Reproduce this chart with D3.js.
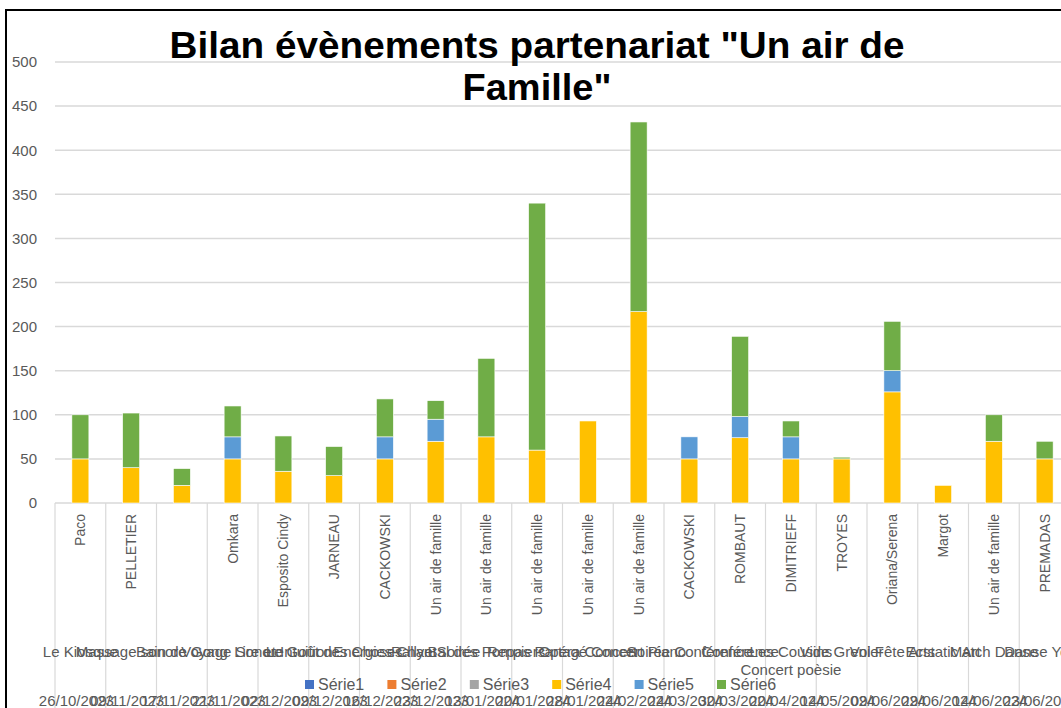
<html>
<head>
<meta charset="utf-8">
<title>Bilan partenariat</title>
<script src="https://cdn.jsdelivr.net/npm/d3@7"></script>
<style>
body{
    margin: 0;
    background: #fff;
}
svg text {
    font-family: "Liberation Sans", Arial, sans-serif;
    fill: #595959;
}
.title {
    font-family: "Liberation Sans Narrow", "Liberation Sans", Arial, sans-serif;
    font-weight: bold;
    fill: #000;
}
.grid line { stroke: #d9d9d9; stroke-width: 1.5px; }
.sep { stroke: #d9d9d9; stroke-width: 1.2px; }
</style>
</head>
<body>
<div id="chart"></div>
<script>
var W = 1061, H = 708;

var titleLines = ['Bilan évènements partenariat "Un air de', 'Famille"'];

var names = ["Paco", "PELLETIER", "", "Omkara", "Esposito Cindy", "JARNEAU", "CACKOWSKI",
    "Un air de famille", "Un air de famille", "Un air de famille", "Un air de famille",
    "Un air de famille", "CACKOWSKI", "ROMBAUT", "DIMITRIEFF", "TROYES", "Oriana/Serena",
    "Margot", "Un air de famille", "PREMADAS"];

var events = ["Le Kiosque", "Massage sonore", "Bain de Gong", "Voyage Sonore", "Lire et Intuition",
    "Le Goût des Choses", "Energies Chant", "Rallye Soirée", "Bal des Pompiers", "Repas Partagé",
    "Opéra Concert", "Concert Piano", "Soirée Conférence", "Conférence", "Les Cousins|Concert poèsie",
    "Vide Grenier", "Vol Fête Arts", "Ecstatic Art", "Match Danse", "Danse Yoga"];

var dates = ["26/10/2023", "09/11/2023", "17/11/2023", "21/11/2023", "02/12/2023", "09/12/2023",
    "16/12/2023", "23/12/2023", "13/01/2024", "20/01/2024", "28/01/2024", "24/02/2024",
    "24/03/2024", "30/03/2024", "20/04/2024", "14/05/2024", "09/06/2024", "29/06/2024",
    "14/06/2024", "23/06/2024"];

var serie1 = [0,0,0,0,0,0,0,0,0,0,0,0,0,0,0,0,0,0,0,0];
var serie2 = [0,0,0,0,0,0,0,0,0,0,0,0,0,0,0,0,0,0,0,0];
var serie3 = [0,0,0,0,0,0,0,0,0,0,0,0,0,0,0,0,0,0,0,0];
var serie4 = [50,40,20,50,36,31,50,70,75,60,93,217,50,74,50,50,126,20,70,50];
var serie5 = [0,0,0,25,0,0,25,25,0,0,0,0,25,24,25,0,24,0,0,0];
var serie6 = [50,62,19,35,40,33,43,21,89,280,0,215,0,91,18,2,56,0,30,20];

var seriesNames = ["Série1", "Série2", "Série3", "Série4", "Série5", "Série6"];
var seriesColors = ["#4472C4", "#ED7D31", "#A5A5A5", "#FFC000", "#5B9BD5", "#70AD47"];
var yTicks = [0, 50, 100, 150, 200, 250, 300, 350, 400, 450, 500];

var allSeries = [serie1, serie2, serie3, serie4, serie5, serie6];
var rows = names.map(function(n, i) {
    var r = {idx: i};
    seriesNames.forEach(function(s, k) { r[s] = allSeries[k][i]; });
    return r;
});

var plotLeft = 55, step = 50.75, plotBottom = 503, plotTop = 62;

var x = d3.scaleBand()
    .domain(d3.range(names.length))
    .range([plotLeft, plotLeft + step * names.length]);
var y = d3.scaleLinear().domain([0, 500]).range([plotBottom, plotTop]);
var color = d3.scaleOrdinal().domain(seriesNames).range(seriesColors);
var barW = 17;

var svg = d3.select('#chart').append('svg')
    .attr('width', W)
    .attr('height', H);

svg.append('rect').attr('width', W).attr('height', H).attr('fill', '#fff');

// gridlines
svg.append('g').attr('class', 'grid')
    .selectAll('line').data(yTicks).enter().append('line')
    .attr('x1', plotLeft).attr('x2', W)
    .attr('y1', function(d) { return y(d); })
    .attr('y2', function(d) { return y(d); });

// y labels
var yAxis = d3.axisLeft(y).tickValues(yTicks).tickSize(0).tickPadding(0);
var ya = svg.append('g').attr('transform', 'translate(37,0)').call(yAxis);
ya.select('.domain').remove();
ya.selectAll('text').style('font-size', '15px').attr('fill', '#595959')
    .style('font-family', '"Liberation Sans", Arial, sans-serif');

// category separators
svg.append('g').selectAll('line')
    .data(d3.range(names.length + 1)).enter().append('line')
    .attr('class', 'sep')
    .attr('x1', function(d) { return plotLeft + d * x.step(); })
    .attr('x2', function(d) { return plotLeft + d * x.step(); })
    .attr('y1', plotBottom).attr('y2', H);

// bars
var stack = d3.stack().keys(seriesNames);
svg.append('g').selectAll('g')
    .data(stack(rows)).enter().append('g')
    .attr('fill', function(d) { return color(d.key); })
    .selectAll('rect')
    .data(function(d) { return d.filter(function(p) { return p[1] - p[0] > 0; }); })
    .enter().append('rect')
    .attr('x', function(d) { return x(d.data.idx) + x.bandwidth() / 2 - barW / 2; })
    .attr('width', barW)
    .attr('y', function(d) { return y(d[1]); })
    .attr('height', function(d) { return y(d[0]) - y(d[1]); })
    .attr('stroke', '#fff')
    .attr('stroke-width', 0.6);

// names (rotated)
svg.append('g').selectAll('text')
    .data(names).enter().append('text')
    .attr('transform', function(d, i) {
        return 'translate(' + (x(i) + x.bandwidth() / 2 + 5) + ',514) rotate(-90)';
    })
    .attr('text-anchor', 'end')
    .style('font-size', '14px')
    .text(function(d) { return d; });

// events (horizontal, may wrap)
svg.append('g').selectAll('text')
    .data(events).enter().append('text')
    .attr('x', function(d, i) { return x(i) + x.bandwidth() / 2; })
    .attr('y', 657)
    .attr('text-anchor', 'middle')
    .style('font-size', '15px')
    .each(function(d) {
        var parts = d.split('|');
        var t = d3.select(this);
        var cx = t.attr('x');
        parts.forEach(function(p, k) {
            t.append('tspan').attr('x', cx).attr('dy', k ? 18 : 0).text(p);
        });
    });

// dates
svg.append('g').selectAll('text')
    .data(dates).enter().append('text')
    .attr('x', function(d, i) { return x(i) + x.bandwidth() / 2 - 4; })
    .attr('y', 706)
    .attr('text-anchor', 'middle')
    .style('font-size', '15px')
    .text(function(d) { return d; });

// legend
var legend = svg.append('g').selectAll('g')
    .data(seriesNames).enter().append('g')
    .attr('transform', function(d, i) { return 'translate(' + (305 + i * 82.4) + ',680)'; });
legend.append('rect').attr('width', 9).attr('height', 9)
    .attr('fill', function(d) { return color(d); });
legend.append('text').attr('x', 13).attr('y', 10)
    .style('font-size', '16px')
    .text(function(d) { return d; });

// title
svg.selectAll('.title')
    .data(titleLines).enter().append('text')
    .attr('class', 'title')
    .attr('x', 537)
    .attr('y', function(d, i) { return 58 + i * 42; })
    .attr('text-anchor', 'middle')
    .style('font-size', '36px')
    .attr('textLength', function(d, i) { return i ? 149 : 735; })
    .attr('lengthAdjust', 'spacingAndGlyphs')
    .text(function(d) { return d; });

// chart border (only left/top visible in the crop)
svg.append('rect')
    .attr('x', 6).attr('y', 10)
    .attr('width', W + 20).attr('height', H + 20)
    .attr('fill', 'none').attr('stroke', '#000').attr('stroke-width', 2);
</script>
</body>
</html>
